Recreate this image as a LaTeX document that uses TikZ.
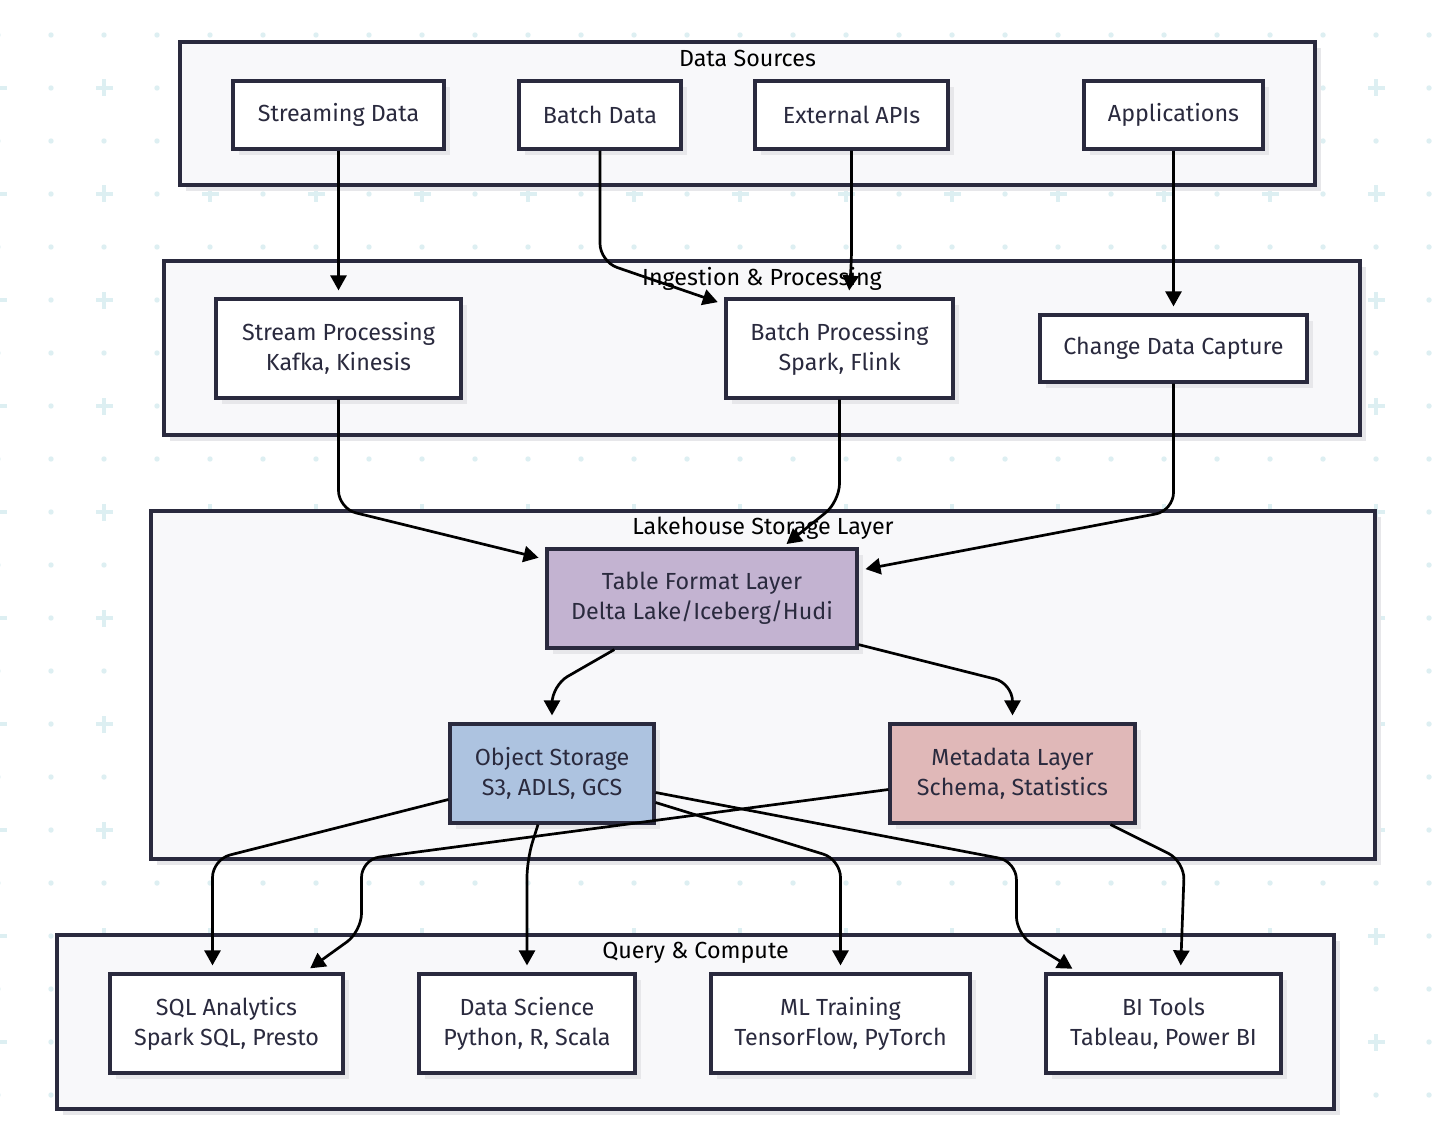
\documentclass[tikz,border=0pt]{standalone}
\usepackage{fontspec}
\setmainfont{Fira Sans}
\usetikzlibrary{arrows.meta,shadows,calc}
\definecolor{strokec}{HTML}{2A2A3E}
\definecolor{textc}{HTML}{2A2A3E}
\definecolor{clfill}{HTML}{F8F8FA}
\definecolor{shadowc}{HTML}{E7E7EA}
\definecolor{bgc}{HTML}{DDEFF2}
\definecolor{tflc}{HTML}{C3B3D1}
\definecolor{osc}{HTML}{ADC3E0}
\definecolor{mdc}{HTML}{E0B8B8}
\newcommand\nfont{\fontsize{23.3}{30}\selectfont}
\begin{document}
\begin{tikzpicture}[x=1pt,y=-1pt,
  shad/.style={drop shadow={shadow xshift=6pt, shadow yshift=-6pt, fill=shadowc, opacity=1}},
  box/.style={draw=strokec, line width=3.2pt, fill=white, align=center, text=textc,
    font=\nfont, inner sep=0pt, shad},
  cluster/.style={draw=strokec, line width=3.2pt, fill=clfill, inner sep=0pt, shad},
  ctitle/.style={text=black, font=\nfont, inner sep=0pt},
  edge/.style={draw=black, line width=2.7pt, -{Triangle[length=15pt,width=16pt]},
    rounded corners=18pt, shorten >=7pt}]
\useasboundingbox (0,0) rectangle (1442,1134);
\fill[white] (0,0) rectangle (1442,1134);
% background pattern
\foreach \i in {0,...,27}{\foreach \j in {0,...,20}{
  \pgfmathtruncatemacro\pl{ifthenelse(and(mod(\i,2)==0,mod(\j,2)==1),1,0)}
  \ifnum\pl=1
    \fill[bgc] (-2+53*\i-8.5, 35+53*\j-2) rectangle ++(17,4);
    \fill[bgc] (-2+53*\i-2, 35+53*\j-8.5) rectangle ++(4,17);
  \else
    \fill[bgc] (-2+53*\i, 35+53*\j) circle (2.7);
  \fi
}}
% clusters
\node[cluster, minimum width=1135, minimum height=143] (c1) at (747.5,113.5) {};
\node[cluster, minimum width=1196, minimum height=174] (c2) at (762,348) {};
\node[cluster, minimum width=1224, minimum height=348] (c3) at (763,685) {};
\node[cluster, minimum width=1277, minimum height=174] (c4) at (695.5,1022) {};
\node[ctitle] (t1) at ($(c1.north)+(0,18)$) {Data Sources};
\node[ctitle] (t2) at ($(c2.north)+(0,19)$) {Ingestion \& Processing};
\node[ctitle] (t3) at ($(c3.north)+(0,19)$) {Lakehouse Storage Layer};
\node[ctitle] (t4) at ($(c4.north)+(0,19)$) {Query \& Compute};
% nodes
\node[box, minimum width=211, minimum height=68] (sd) at (338.5,115) {Streaming Data};
\node[box, minimum width=162, minimum height=68] (bd) at (600,115) {Batch Data};
\node[box, minimum width=193, minimum height=68] (ea) at (851.5,115) {External APIs};
\node[box, minimum width=179, minimum height=68] (ap) at (1173.5,115) {Applications};
\node[box, minimum width=245, minimum height=99] (sp) at (338.5,348.5) {Stream Processing\\Kafka, Kinesis};
\node[box, minimum width=227, minimum height=99] (bp) at (839.5,348.5) {Batch Processing\\Spark, Flink};
\node[box, minimum width=267, minimum height=67] (cdc) at (1173.5,348.5) {Change Data Capture};
\node[box, fill=tflc, minimum width=310, minimum height=99] (tfl) at (702,598.5) {Table Format Layer\\Delta Lake/Iceberg/Hudi};
\node[box, fill=osc, minimum width=204, minimum height=99] (os) at (552,773.5) {Object Storage\\S3, ADLS, GCS};
\node[box, fill=mdc, minimum width=245, minimum height=99] (md) at (1012.5,773.5) {Metadata Layer\\Schema, Statistics};
\node[box, minimum width=233, minimum height=99] (sql) at (226.5,1023.5) {SQL Analytics\\Spark SQL, Presto};
\node[box, minimum width=216, minimum height=99] (ds) at (527,1023.5) {Data Science\\Python, R, Scala};
\node[box, minimum width=259, minimum height=99] (ml) at (840.5,1023.5) {ML Training\\TensorFlow, PyTorch};
\node[box, minimum width=235, minimum height=99] (bi) at (1163.5,1023.5) {BI Tools\\Tableau, Power BI};
% edges
\draw[edge] (sd.south) -- (sp.north);
\draw[edge] (bd.south) -- ($(bd.south)+(0,111)$) -- ($(bp.north west)+(0,7)$);
\draw[edge] (ea.south) -- ($(ea.south)+(0,116)$) -- ($(bp.north)+(9,0)$);
\draw[edge] (ap.south) -- (cdc.north);
\draw[edge] (sp.south) -- ($(sp.south)+(0,109)$) -- ($(tfl.north west)+(0,12)$);
\draw[edge] (bp.south) -- ($(bp.south)+(0,102)$) -- ($(tfl.north)+(79,1)$);
\draw[edge] (cdc.south) -- ($(cdc.south)+(0,127)$) -- ($(tfl.north east)+(0,23)$);
\draw[edge] ($(tfl.south west)!0.22!(tfl.south east)$) -- ($(os.north)+(0,-37)$) -- (os.north);
\draw[edge] ($(tfl.south east)+(0,-5)$) -- ($(md.north)+(0,-39)$) -- (md.north);
\draw[edge] ($(os.west)+(0,26)$) -- ($(sql.north)+(-14,-113)$) -- ($(sql.north)+(-14,0)$);
\draw[edge] ($(os.south)+(-14,0)$) -- ($(ds.north)+(0,-113)$) -- (ds.north);
\draw[edge] ($(os.east)+(0,29)$) -- ($(ml.north)+(0,-113)$) -- (ml.north);
\draw[edge] ($(os.east)+(0,19)$) -- ($(bi.north west)+(-28,-111)$) -- ($(bi.north west)+(-28,-38)$) -- ($(bi.north west)+(34,0)$);
\draw[edge] ($(md.west)+(0,16)$) -- ($(sql.north)+(135,-113)$) -- ($(sql.north)+(135,-41)$) -- ($(sql.north)+(78,0)$);
\draw[edge] ($(md.south)+(98,0)$) -- ($(bi.north)+(21,-111)$) -- ($(bi.north)+(17,0)$);
\end{tikzpicture}
\end{document}
